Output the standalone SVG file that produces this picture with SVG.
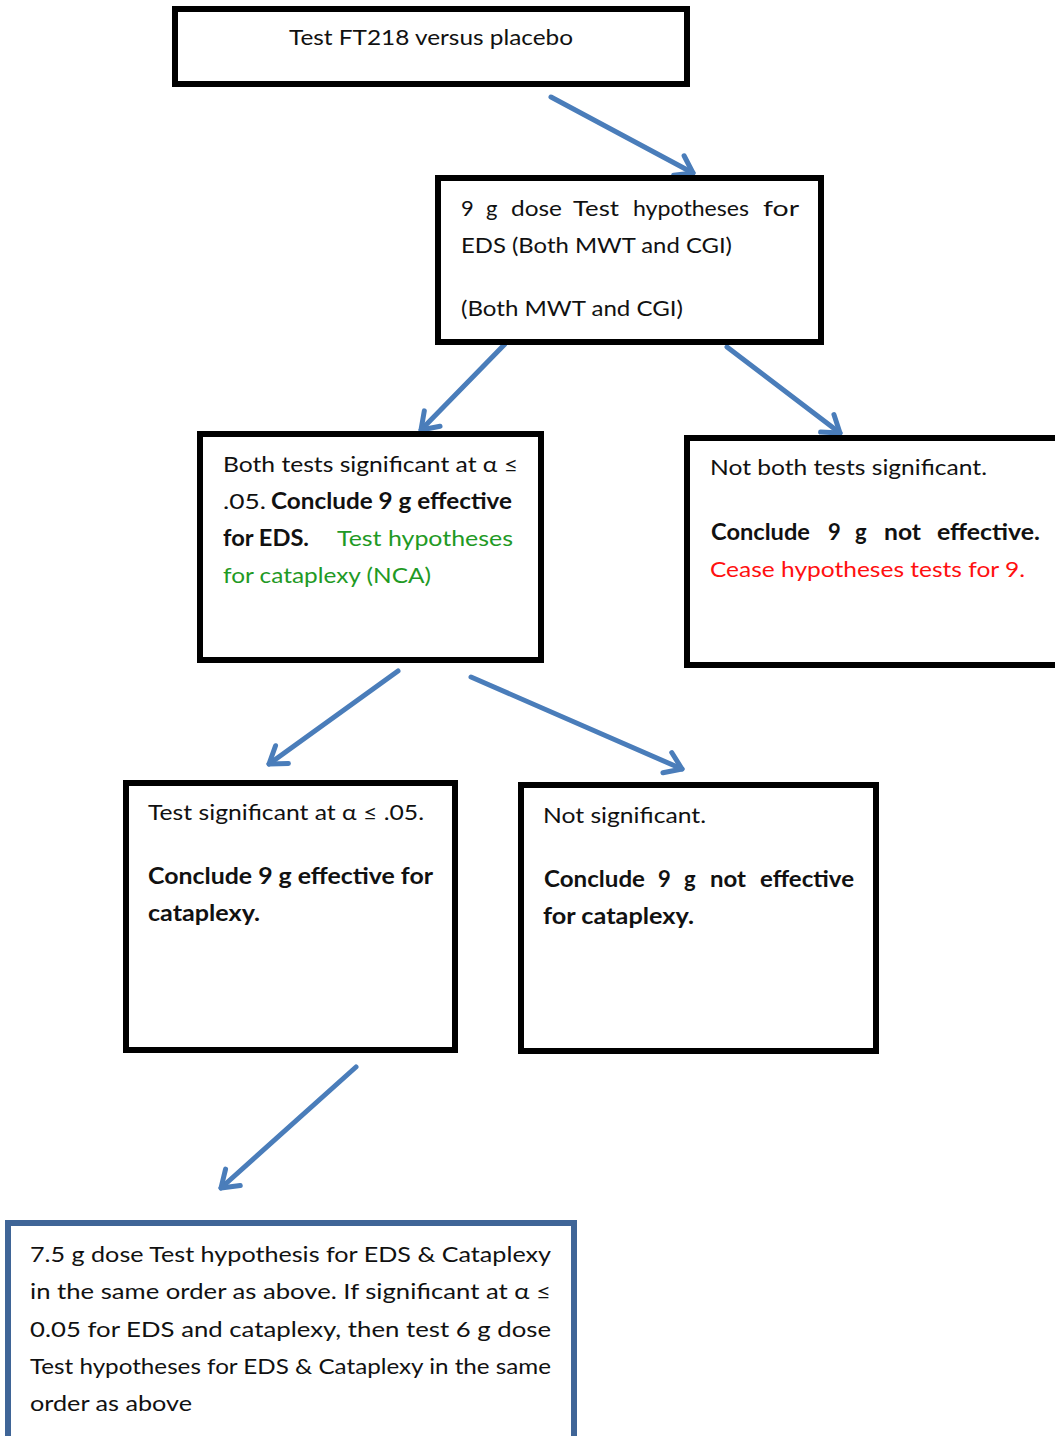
<svg xmlns="http://www.w3.org/2000/svg" width="1055" height="1436" viewBox="0 0 1055 1436">
<style>
.box{fill:#fff;stroke:#000;stroke-width:6}
.box7{fill:#fff;stroke:#3F6597;stroke-width:6}
text{font-family:Lato,"Open Sans","Liberation Sans",sans-serif;font-size:22px;fill:#111}
.b{font-weight:bold}
.g{fill:#1F9A25}
.r{fill:#FF1010}
.arrow{fill:none;stroke:#4A7DBA;stroke-width:5;stroke-linecap:round;stroke-linejoin:round}
</style>
<defs>
<marker id="ah" markerUnits="userSpaceOnUse" viewBox="-20 -14 24 28" refX="0" refY="0" markerWidth="24" markerHeight="28" orient="auto">
<path d="M-16,-11 L0,0 L-16,11" fill="none" stroke="#4A7DBA" stroke-width="5" stroke-linecap="round" stroke-linejoin="round"/>
</marker>
</defs>
<rect width="1055" height="1436" fill="#fff"/>
<g id="connectors">
<line class="arrow" x1="551" y1="97" x2="693" y2="173" marker-end="url(#ah)"/>
<line class="arrow" x1="505" y1="344" x2="421" y2="430" marker-end="url(#ah)"/>
<line class="arrow" x1="727" y1="347" x2="840" y2="433" marker-end="url(#ah)"/>
<line class="arrow" x1="398" y1="671" x2="269" y2="764" marker-end="url(#ah)"/>
<line class="arrow" x1="471" y1="677" x2="682" y2="769" marker-end="url(#ah)"/>
<line class="arrow" x1="356" y1="1067" x2="221" y2="1188" marker-end="url(#ah)"/>
</g>
<g id="n1">
<rect class="box" x="175" y="9" width="512" height="75"/>
<text x="289" y="45" textLength="284" lengthAdjust="spacingAndGlyphs">Test FT218 versus placebo</text>
</g>
<g id="n2">
<rect class="box" x="438" y="178" width="383" height="164"/>
<text y="216"><tspan x="461">9</tspan> <tspan x="486">g</tspan> <tspan x="511" textLength="51" lengthAdjust="spacingAndGlyphs">dose</tspan> <tspan x="573" textLength="46" lengthAdjust="spacingAndGlyphs">Test</tspan> <tspan x="633" textLength="116" lengthAdjust="spacingAndGlyphs">hypotheses</tspan> <tspan x="763" textLength="36" lengthAdjust="spacingAndGlyphs">for</tspan></text>
<text x="461" y="253" textLength="271" lengthAdjust="spacingAndGlyphs">EDS (Both MWT and CGI)</text>
<text x="461" y="316" textLength="222" lengthAdjust="spacingAndGlyphs">(Both MWT and CGI)</text>
</g>
<g id="n3">
<rect class="box" x="200" y="434" width="341" height="226"/>
<text x="223" y="472" textLength="295" lengthAdjust="spacingAndGlyphs">Both tests significant at α ≤</text>
<text x="223" y="509" textLength="43" lengthAdjust="spacingAndGlyphs">.05.</text>
<text class="b" x="271" y="509" textLength="241" lengthAdjust="spacingAndGlyphs">Conclude 9 g effective</text>
<text class="b" x="223" y="546" textLength="86" lengthAdjust="spacingAndGlyphs">for EDS.</text>
<text class="g" x="337" y="546" textLength="176" lengthAdjust="spacingAndGlyphs">Test hypotheses</text>
<text class="g" x="223" y="583" textLength="208" lengthAdjust="spacingAndGlyphs">for cataplexy (NCA)</text>
</g>
<g id="n4">
<rect class="box" x="687" y="438" width="400" height="227"/>
<text x="710" y="475" textLength="277" lengthAdjust="spacingAndGlyphs">Not both tests significant.</text>
<text class="b" y="540"><tspan x="711" textLength="99" lengthAdjust="spacingAndGlyphs">Conclude</tspan> <tspan x="828">9</tspan> <tspan x="855">g</tspan> <tspan x="884" textLength="37" lengthAdjust="spacingAndGlyphs">not</tspan> <tspan x="937" textLength="103" lengthAdjust="spacingAndGlyphs">effective.</tspan></text>
<text class="r" x="710" y="577" textLength="315" lengthAdjust="spacingAndGlyphs">Cease hypotheses tests for 9.</text>
</g>
<g id="n5">
<rect class="box" x="126" y="783" width="329" height="267"/>
<text x="148" y="820" textLength="276" lengthAdjust="spacingAndGlyphs">Test significant at α ≤ .05.</text>
<text class="b" x="148" y="884" textLength="285" lengthAdjust="spacingAndGlyphs">Conclude 9 g effective for</text>
<text class="b" x="148" y="921" textLength="112" lengthAdjust="spacingAndGlyphs">cataplexy.</text>
</g>
<g id="n6">
<rect class="box" x="521" y="785" width="355" height="266"/>
<text x="543" y="823" textLength="163" lengthAdjust="spacingAndGlyphs">Not significant.</text>
<text class="b" y="887"><tspan x="544" textLength="101" lengthAdjust="spacingAndGlyphs">Conclude</tspan> <tspan x="658">9</tspan> <tspan x="684">g</tspan> <tspan x="710" textLength="36" lengthAdjust="spacingAndGlyphs">not</tspan> <tspan x="760" textLength="94" lengthAdjust="spacingAndGlyphs">effective</tspan></text>
<text class="b" x="543" y="924" textLength="151" lengthAdjust="spacingAndGlyphs">for cataplexy.</text>
</g>
<g id="n7">
<rect class="box7" x="8" y="1223" width="566" height="300"/>
<text x="30" y="1262" textLength="521" lengthAdjust="spacingAndGlyphs">7.5 g dose Test hypothesis for EDS &amp; Cataplexy</text>
<text x="30" y="1299" textLength="521" lengthAdjust="spacingAndGlyphs">in the same order as above. If significant at α ≤</text>
<text x="30" y="1337" textLength="521" lengthAdjust="spacingAndGlyphs">0.05 for EDS and cataplexy, then test 6 g dose</text>
<text x="30" y="1374" textLength="521" lengthAdjust="spacingAndGlyphs">Test hypotheses for EDS &amp; Cataplexy in the same</text>
<text x="30" y="1411" textLength="162" lengthAdjust="spacingAndGlyphs">order as above</text>
</g>
</svg>
